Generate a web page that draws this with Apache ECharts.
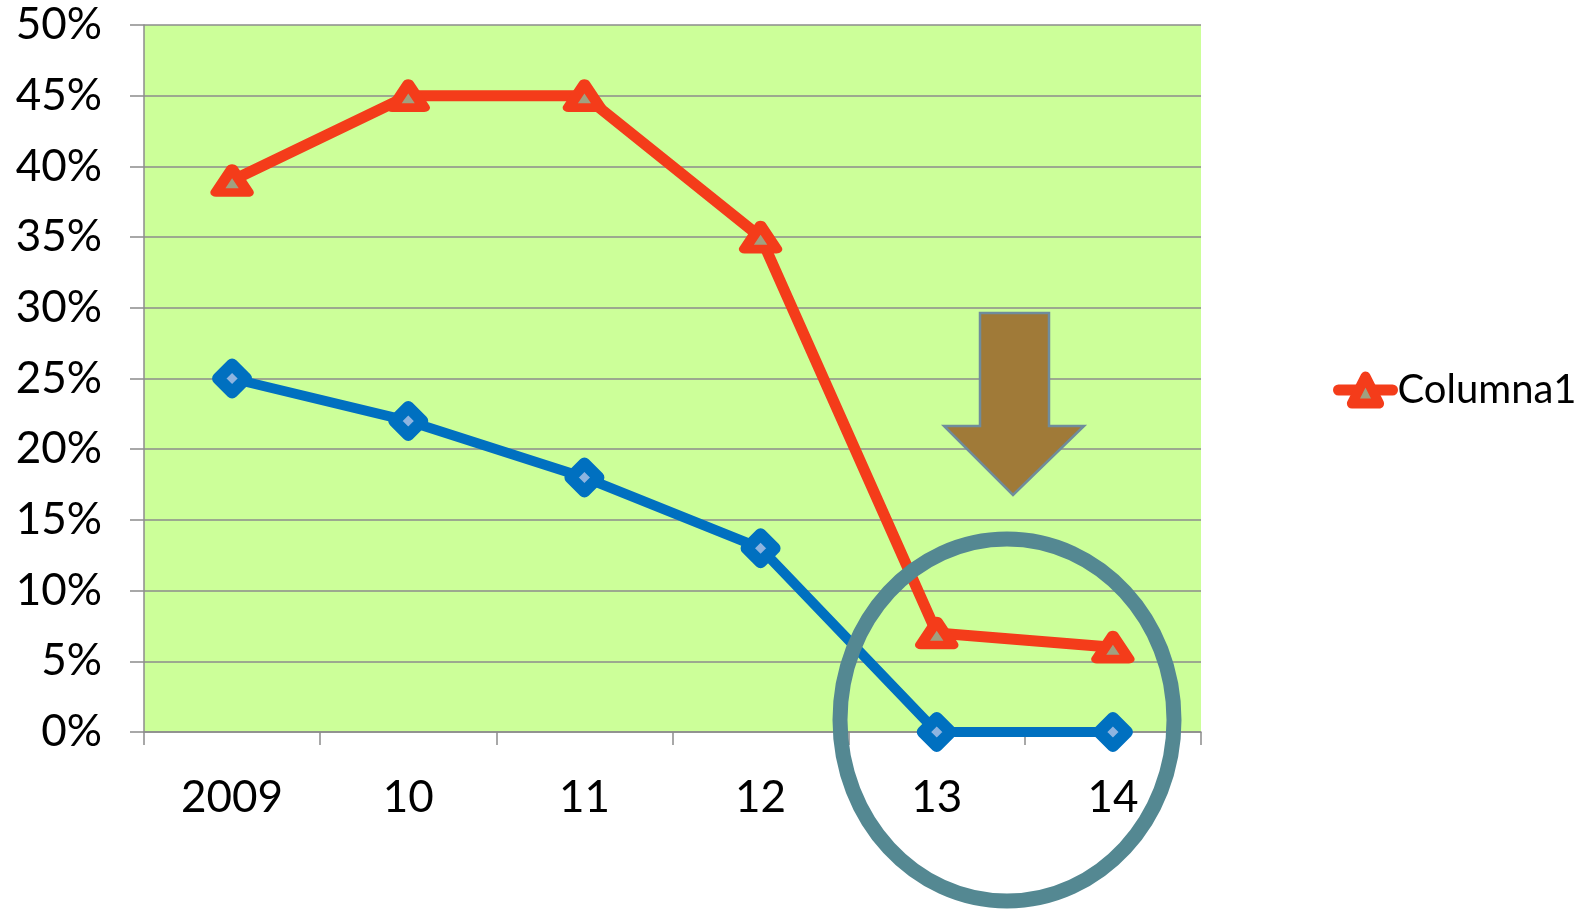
<!DOCTYPE html>
<html><head><meta charset="utf-8">
<script src="https://cdn.jsdelivr.net/npm/echarts@6/dist/echarts.min.js"></script>
<style>html,body{margin:0;padding:0;background:#fff}#c{width:1592px;height:910px}</style>
</head><body><div id="c"></div>
<script>
const categories = ['2009', '10', '11', '12', '13', '14'];
const columna1 = [39, 45, 45, 35, 7, 6];
const serie2 = [25, 22, 18, 13, 0, 0];
const yTicks = [0, 5, 10, 15, 20, 25, 30, 35, 40, 45, 50];

const FONT = 'Lato';
const RED = '#f43c1a';
const BLUE = '#0070c0';
const chart = echarts.init(document.getElementById('c'));
chart.setOption({
  animation: false,
  backgroundColor: '#ffffff',
  grid: { left: 144, right: 391, top: 25, bottom: 178, show: true, backgroundColor: '#ccff99', borderWidth: 0 },
  legend: {
    data: ['Columna1'], left: 1328, top: 365, orient: 'vertical',
    itemWidth: 54, itemHeight: 34, itemGap: 6,
    lineStyle: { width: 11, cap: 'round' },
    itemStyle: { borderWidth: 10, borderJoin: 'round' },
    textStyle: { fontFamily: FONT, fontSize: 40, color: '#000' }
  },
  xAxis: {
    type: 'category', data: categories, boundaryGap: true,
    axisLine: { lineStyle: { color: '#8c8c8c', width: 1.5 } },
    axisTick: { show: true, length: 13, lineStyle: { color: '#8c8c8c', width: 1.5 } },
    axisLabel: { fontFamily: FONT, fontSize: 44, color: '#000', margin: 44 },
    splitLine: { show: false }
  },
  yAxis: {
    type: 'value', min: 0, max: 50, interval: 5,
    axisLine: { show: true, lineStyle: { color: '#8c8c8c', width: 1.5 } },
    axisTick: { show: true, length: 14, lineStyle: { color: '#8c8c8c', width: 1.5 } },
    axisLabel: { fontFamily: FONT, fontSize: 44, color: '#000', margin: 42,
      formatter: v => yTicks.indexOf(v) >= 0 ? v + '%' : '' },
    splitLine: { show: true, lineStyle: { color: '#8c8c8c', width: 1.5 } }
  },
  series: [
    {
      name: 'Serie2', type: 'line', data: serie2, z: 3,
      symbol: 'diamond', symbolSize: 28,
      lineStyle: { color: BLUE, width: 10 },
      itemStyle: { color: '#8eb4e0', borderColor: BLUE, borderWidth: 12, borderJoin: 'round' }
    },
    {
      name: 'Columna1', type: 'line', data: columna1, z: 4,
      symbol: 'triangle', symbolSize: [32, 24],
      lineStyle: { color: RED, width: 11 },
      itemStyle: { color: '#a0a080', borderColor: RED, borderWidth: 10, borderJoin: 'round' }
    }
  ],
  graphic: [
    {
      type: 'polygon', z: 100,
      shape: { points: [[980, 313], [1049, 313], [1049, 426], [1084, 426], [1013, 495], [944, 426], [980, 426]] },
      style: { fill: '#a07a38', stroke: '#6f8c9c', lineWidth: 2.5 }
    },
    {
      type: 'ellipse', z: 100,
      shape: { cx: 1007, cy: 720, rx: 167, ry: 181 },
      style: { fill: 'none', stroke: '#548892', lineWidth: 15 }
    }
  ]
});
</script></body></html>
